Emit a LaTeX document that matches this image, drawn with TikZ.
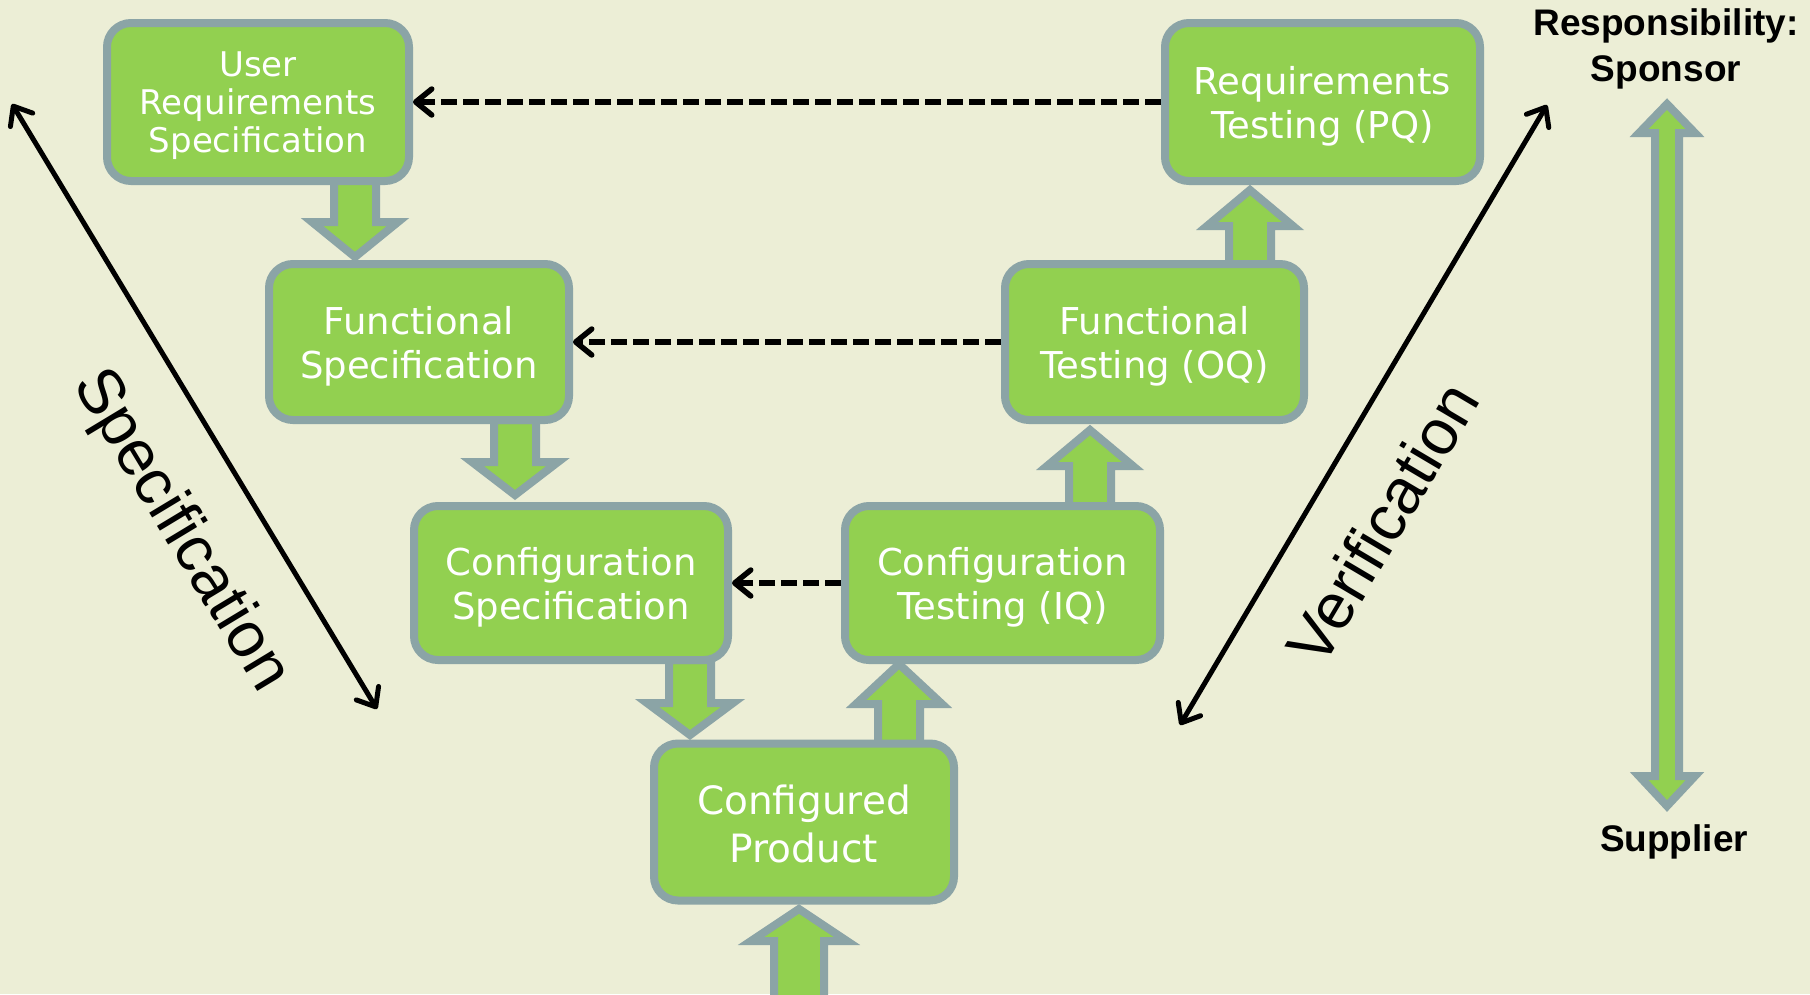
\documentclass[tikz,border=0pt]{standalone}
\usepackage{fontspec}
\setmainfont{DejaVu Sans}
\newfontfamily\arialfont{Liberation Sans}
\usetikzlibrary{arrows.meta,calc}
\definecolor{bg}{HTML}{ECEED6}
\definecolor{boxgreen}{HTML}{92D050}
\definecolor{boxgray}{HTML}{8BA4A6}
\newcommand{\myvarrow}[6]{\draw[blk] ({#1-#5},#2) -- ({#1-#5},#3) -- ({#1-#6},#3) -- (#1,#4) -- ({#1+#6},#3) -- ({#1+#5},#3) -- ({#1+#5},#2) -- cycle;}
\begin{document}
\begin{tikzpicture}[x=1pt,y=-1pt,
  box/.style={draw=boxgray, fill=boxgreen, line width=8pt, rounded corners=24pt, inner sep=0pt},
  boxtext/.style={text=white, align=center, inner sep=0pt},
  blk/.style={draw=boxgray, fill=boxgreen, line width=8pt, line join=miter},
  dasharr/.style={line width=5.5pt, dash pattern=on 16pt off 6pt, -{Straight Barb[length=16pt, width=26pt, round]}},
  diag/.style={line width=5pt, line cap=round, {Straight Barb[length=16pt, width=26pt, round]}-{Straight Barb[length=16pt, width=26pt, round]}},
  lbl/.style={font=\arialfont\fontsize{64}{68}\selectfont, inner sep=0pt},
  resp/.style={font=\arialfont\bfseries\fontsize{37}{46}\selectfont, align=center, inner sep=0pt}
]
\fill[bg] (0,0) rectangle (1810,994);
\useasboundingbox (0,0) rectangle (1810,994);

% block arrows
\myvarrow{355}{180}{222}{257}{21}{43}
\myvarrow{515}{420}{462}{495}{21}{43}
\myvarrow{690}{660}{703}{735}{21}{43}
\myvarrow{899}{745}{704}{664}{21}{43}
\myvarrow{1090}{506}{466}{430}{21}{43}
\myvarrow{1250}{266}{226}{190}{21}{43}
\myvarrow{799}{1000}{941}{909}{25}{48}

% responsibility double arrow
\draw[blk] (1667,104) -- (1695,133) -- (1679,133) -- (1679,776) -- (1695,776) -- (1667,806)
  -- (1639,776) -- (1655,776) -- (1655,133) -- (1639,133) -- cycle;

% boxes
\node[box, minimum width=302pt, minimum height=158pt] (urs) at (258,102) {};
\node[box, minimum width=315pt, minimum height=158pt] (rt) at (1322.5,102) {};
\node[box, minimum width=300pt, minimum height=156pt] (fs) at (419,342) {};
\node[box, minimum width=299pt, minimum height=156pt] (ft) at (1154.5,342) {};
\node[box, minimum width=314pt, minimum height=154pt] (cs) at (571,583) {};
\node[box, minimum width=315pt, minimum height=154pt] (ct) at (1002.5,583) {};
\node[box, minimum width=300pt, minimum height=157pt] (cp) at (804,822) {};

\node[boxtext, font=\fontsize{34}{38}\selectfont] (ursT) at ([yshift=-4pt]urs.center) {User\\Requirements\\Specification};
\node[boxtext, font=\fontsize{37}{44}\selectfont] (rtT) at ([yshift=-4pt]rt.center) {Requirements\\Testing (PQ)};
\node[boxtext, font=\fontsize{37}{44}\selectfont] (fsT) at ([yshift=-4pt]fs.center) {Functional\\Specification};
\node[boxtext, font=\fontsize{37}{44}\selectfont] (ftT) at ([yshift=-4pt]ft.center) {Functional\\Testing (OQ)};
\node[boxtext, font=\fontsize{37}{44}\selectfont] (csT) at ([yshift=-4pt]cs.center) {Configuration\\Specification};
\node[boxtext, font=\fontsize{37}{44}\selectfont] (ctT) at ([yshift=-4pt]ct.center) {Configuration\\Testing (IQ)};
\node[boxtext, font=\fontsize{39}{48}\selectfont] (cpT) at ([yshift=-2pt]cp.center) {Configured\\Product};

% dashed arrows
\draw[dasharr] (rt.west) -- (urs.east);
\draw[dasharr] (ft.west) -- (fs.east);
\draw[dasharr] (ct.west) -- (cs.east);

% diagonal arrows
\coordinate (sa) at (12,104);
\coordinate (sb) at (377,709);
\coordinate (va) at (1547,105);
\coordinate (vb) at (1180,725);
\draw[diag] (sa) -- (sb);
\draw[diag] (va) -- (vb);

% labels
\node[lbl, rotate=-58.9] (spec) at (180,531) {Specification};
\node[lbl, rotate=59.4] (verif) at (1382,523) {Verification};
\node[resp] (sponsor) at (1666,49) {Responsibility:\\Sponsor};
\node[resp] (supplier) at (1674,842) {Supplier};
\end{tikzpicture}
\end{document}
